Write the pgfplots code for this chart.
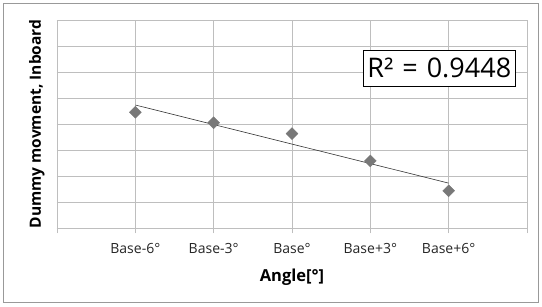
\documentclass[border=0pt]{standalone}
\usepackage{pgfplots}
\pgfplotsset{compat=1.18}
\usepackage{fontspec}
\setmainfont{Open Sans}
\definecolor{gridc}{RGB}{190,190,190}
\definecolor{mk}{RGB}{120,120,120}
\begin{document}
\begin{tikzpicture}[x=1pt,y=1pt]
\path[fill=white] (0,0) rectangle (542,306);
\draw[draw=gray!80, line width=0.8pt] (3.5,3.5) rectangle (538.5,302.5);
\begin{axis}[
  at={(57pt,78pt)}, anchor=south west,
  scale only axis, width=470pt, height=208pt,
  xmin=0, xmax=6, ymin=0, ymax=8,
  xtick={0,1,2,3,4,5,6},
  xticklabels={,Base-6°,Base-3°,Base°,Base+3°,Base+6°,},
  ytick={0,1,...,8}, yticklabels={},
  grid=major, grid style={gridc, line width=0.6pt},
  axis line style={gridc, line width=0.6pt},
  axis x line*=bottom, axis y line*=left,
  x axis line style={-},
  y axis line style={-},
  tick align=outside,
  major tick length=5pt,
  every tick/.style={gridc, line width=0.6pt},
  ytick style={draw=none},
  xticklabel style={font=\fontsize{14}{16}\selectfont, text=black!85, yshift=-7pt},
  xlabel={\textbf{Angle[°]}},
  xlabel style={at={(axis description cs:0.5,-0.236)}, anchor=center, font=\fontsize{16.5}{18}\selectfont},
  ylabel={\textbf{Dummy movment, Inboard}},
  ylabel style={at={(axis description cs:-0.043,0.5)}, anchor=center, rotate=0, font=\fontsize{15.5}{18}\selectfont},
  clip=false,
]
\addplot[mk, only marks, mark=square*, mark size=4.2pt, mark options={fill=mk, draw=mk, rotate=45}] coordinates {
 (1,4.45) (2,4.05) (3,3.63) (4,2.58) (5,1.43)};
\addplot[black!80, line width=0.6pt, no marks] coordinates {(1,4.73) (5,1.726)};
\node[draw=black, line width=0.8pt, fill=white, inner xsep=4pt, inner ysep=8pt, font=\fontsize{27}{29}\selectfont] at (axis cs:4.88,6.15) {R²\,\,=\,\,0.9448};
\end{axis}
\end{tikzpicture}
\end{document}
